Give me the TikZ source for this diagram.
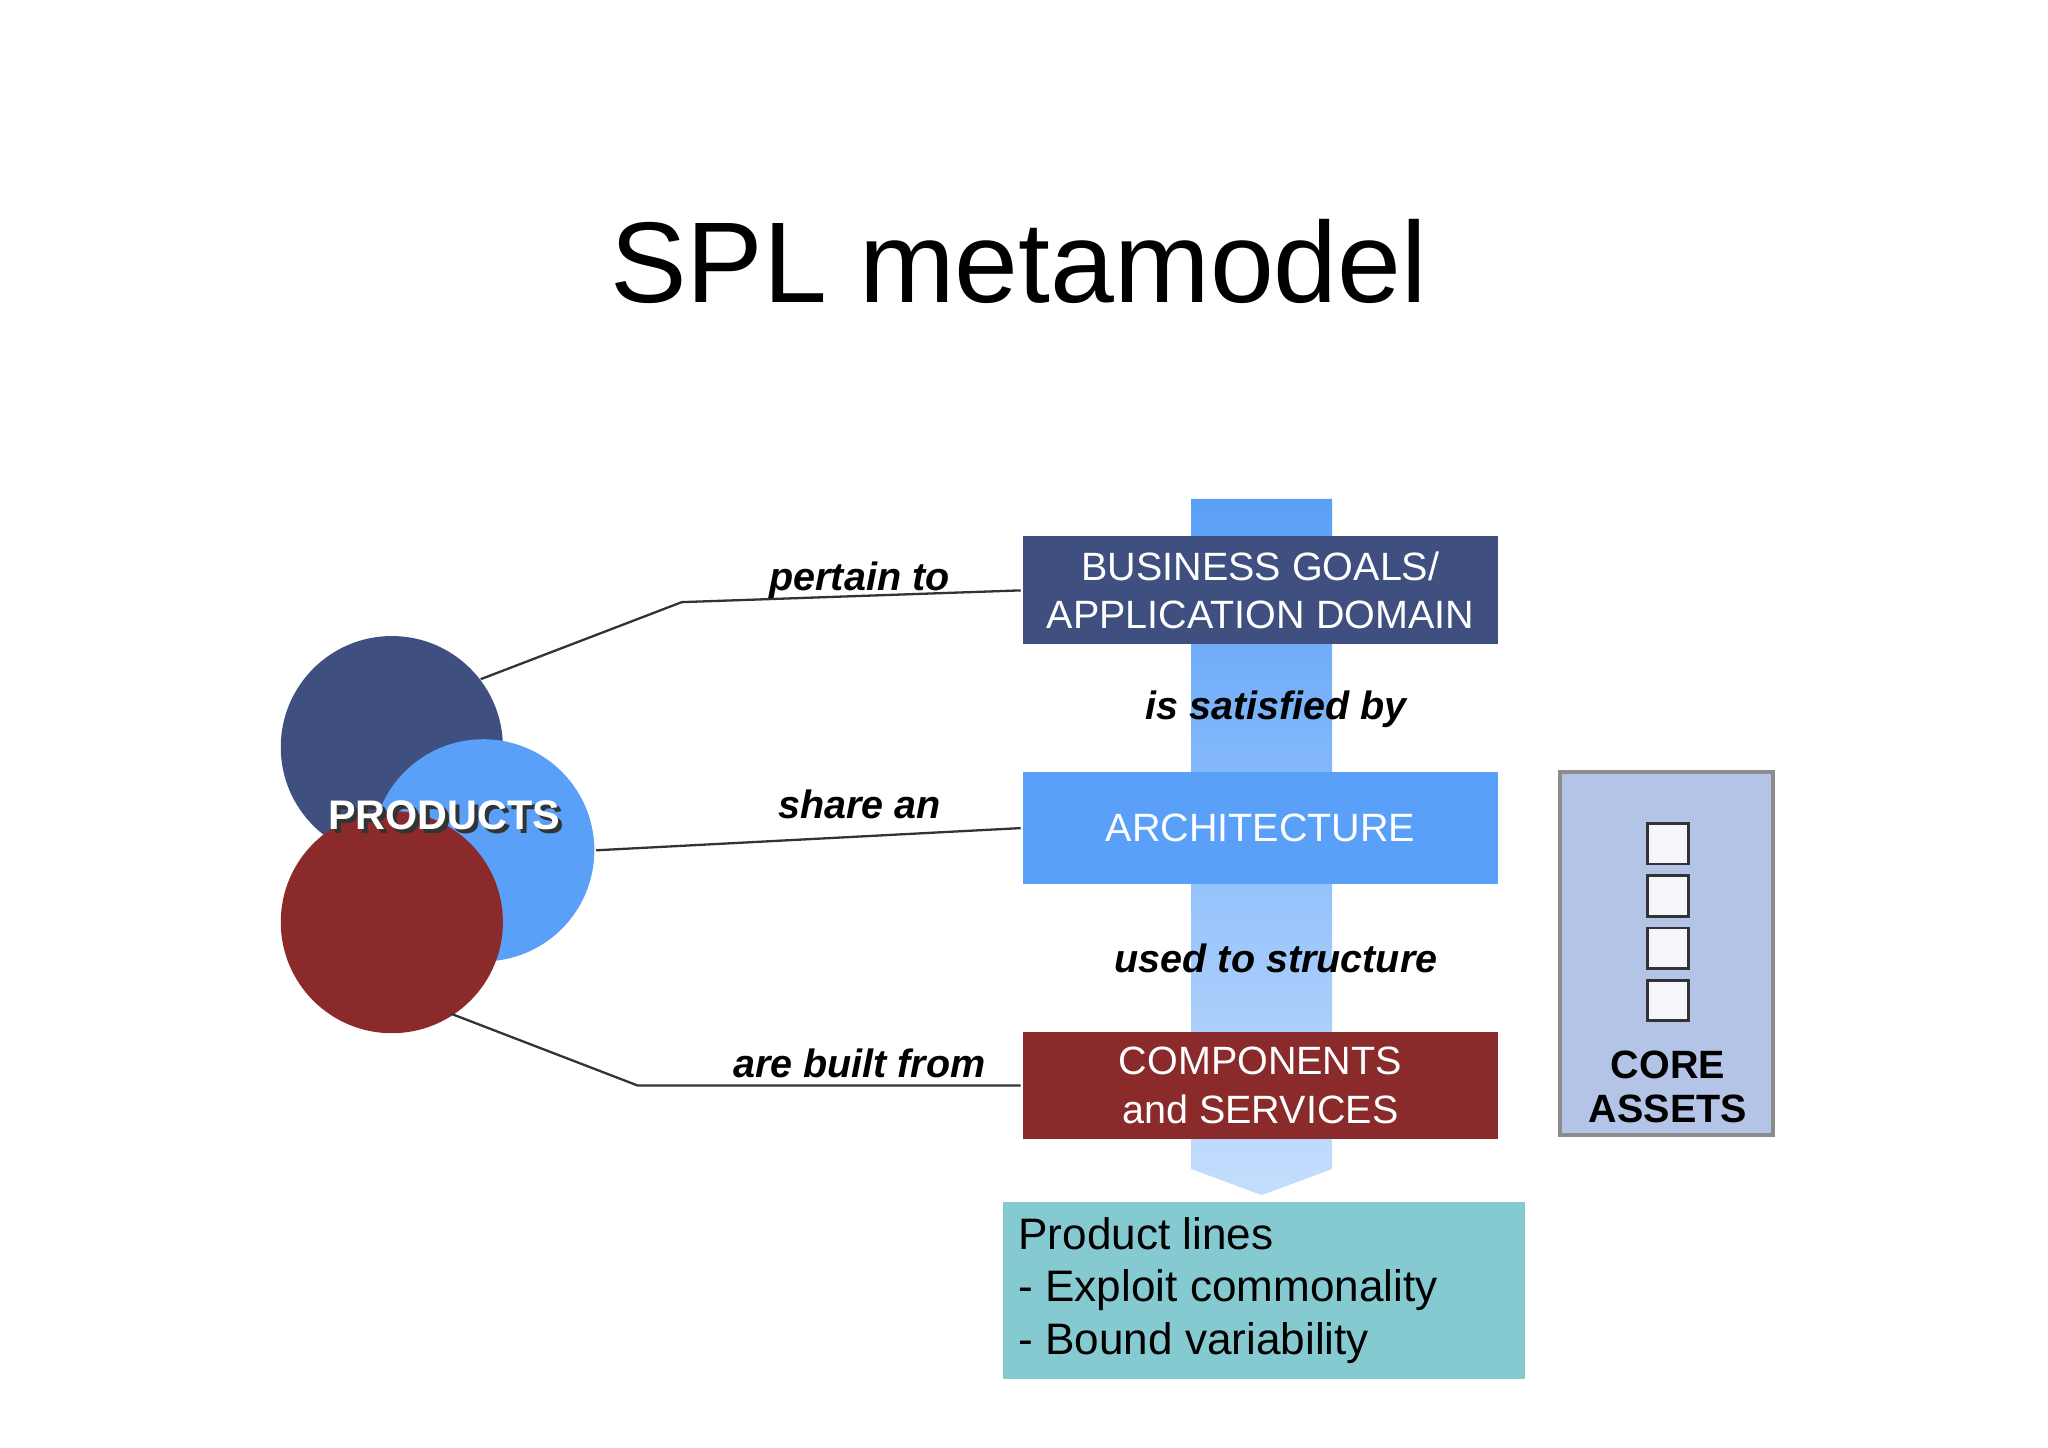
\documentclass[tikz,border=0pt]{standalone}
\usepackage{fontspec}
\setmainfont{Liberation Sans}
\usetikzlibrary{positioning,arrows.meta,calc}
\definecolor{goalblue}{HTML}{3F4F80}
\definecolor{archblue}{HTML}{5AA0F8}
\definecolor{compred}{HTML}{8B2A2A}
\definecolor{linecyan}{HTML}{85CAD0}
\definecolor{assetblue}{HTML}{B4C4E6}

\begin{document}
\begin{tikzpicture}[
    x=0.01cm, y=-0.01cm,
    thick,
    box/.style={
        rectangle,
        draw=none,
        minimum width=3.64cm,
        align=center,
        text=white,
        font=\fontsize{8.6}{10.5}\selectfont
    },
    rel/.style={font=\fontsize{8.6}{10}\selectfont\bfseries\itshape},
    link/.style={draw=black!80, line width=0.5pt},
    slot/.style={draw=black!80, fill=white!85!assetblue, line width=0.6pt, minimum size=0.31cm, inner sep=0pt}
]
\useasboundingbox (0,0) rectangle (1568,1108);

\node[font=\fontsize{25}{30}\selectfont] (title) at (780,200) {SPL metamodel};

% flow band behind the boxes
\shade[top color=archblue, bottom color=archblue!35]
    (912,382) -- (1020,382) -- (1020,895) -- (966,915) -- (912,895) -- cycle;

\node[box, fill=goalblue, minimum height=0.81cm] (goals) at (965,452) {BUSINESS GOALS/\\APPLICATION DOMAIN};
\node[box, fill=archblue, minimum height=0.86cm] (arch) at (965,634) {ARCHITECTURE};
\node[box, fill=compred, minimum height=0.82cm] (comp) at (965,831) {COMPONENTS\\and SERVICES};
\node[box, fill=linecyan, text=black, minimum width=3.68cm, minimum height=1.35cm, align=left,
      font=\fontsize{9.6}{11.5}\selectfont] (lines) at (968,988)
    {Product lines\\- Exploit commonality\\- Bound variability\hspace*{3.2em}};

\node[rel] (sat) at (977,543) {is satisfied by};
\node[rel] (struct) at (977,734) {used to structure};

% core assets
\node[draw=black!45, fill=assetblue, minimum width=1.63cm, minimum height=2.78cm] (assets) at (1276,730) {};
\foreach \y/\n in {646/a, 686/b, 726/c, 766/d}
    \node[slot] (slot\n) at (1277,\y) {};
\node[font=\fontsize{8.6}{9.5}\selectfont\bfseries, align=center] (coretext) at (1277,832) {CORE\\ASSETS};

% products
\node[circle, fill=goalblue, minimum size=1.7cm] (pa) at (300,572) {};
\node[circle, fill=archblue, minimum size=1.7cm] (pb) at (370,651) {};
\node[circle, fill=compred, minimum size=1.7cm] (pc) at (300,706) {};
\node[font=\fontsize{9}{10}\selectfont\bfseries, text=black!80] at (343,627) {PRODUCTS};
\node[font=\fontsize{9}{10}\selectfont\bfseries, text=white] (prod) at (340,624) {PRODUCTS};

\coordinate (k1) at (522,461);
\coordinate (k2) at (488,831);
\coordinate (s1) at (368,520);
\coordinate (s3) at (345,776);
\draw[link] (s1) -- (k1) -- (goals.west);
\draw[link] (pb.east) -- (arch.west);
\draw[link] (s3) -- (k2) -- (comp.west);
\node[rel] (l1) at (658,444) {pertain to};
\node[rel] (l2) at (658,616) {share an};
\node[rel] (l3) at (658,814) {are built from};

\end{tikzpicture}
\end{document}
